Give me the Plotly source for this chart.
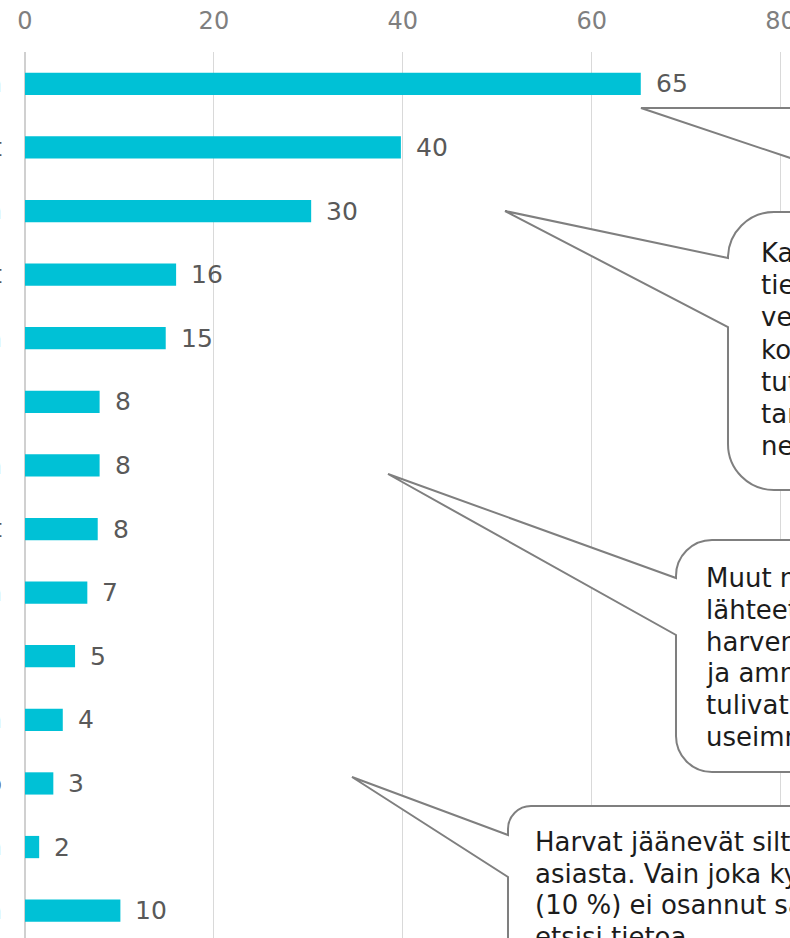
import plotly.graph_objects as go

# ---------------- data ----------------
categories = [
    "Internetin hakukoneista",
    "Viranomaisten verkkosivut",
    "Ystäviltä ja tuttavilta",
    "Sosiaalisen median palvelut",
    "Perheenjäseniltä",
    "Apteekista yms.",
    "Terveydenhuollon ammattilaiselta",
    "Järjestöt ja yhdistykset",
    "Työpaikalta",
    "Jostain muualta.",
    "Oppilaitoksesta",
    "Televisio ja radio",
    "Kirjastosta",
    "En osaa sanoa",
]
values = [65.2, 39.8, 30.3, 16.0, 14.9, 7.9, 7.9, 7.7, 6.6, 5.3, 4.0, 3.0, 1.5, 10.1]
value_labels = ["65", "40", "30", "16", "15", "8", "8", "8", "7", "5", "4", "3", "2", "10"]
x_ticks = [0, 20, 40, 60, 80]

callout1_lines = [
    "Kaksi kolmesta etsisi",
    "tietoa hakukoneella ja",
    "verkkosivuilta. Noin",
    "kolmannes kysyisi",
    "tuttaviltaan, ja moni",
    "tarkistaisi asian",
    "netistä.",
]
callout2_lines = [
    "Muut nimetyt tieto-",
    "lähteet mainittiin",
    "harvemmin. Viranomaiset",
    "ja ammattilaiset",
    "tulivat kyseeseen",
    "useimmiten vasta myöhemmin.",
]
callout3_lines = [
    "Harvat jäänevät silti ilman tietoa",
    "asiasta. Vain joka kymmenes",
    "(10 %) ei osannut sanoa, mistä",
    "etsisi tietoa.",
]

# ---------------- layout geometry ----------------
W, H = 790, 938
PX0, PY0 = 25, 52            # position of the plot area's top-left corner
ML, MT = PX0, PY0
PW, PH = W - ML, H - MT
FONT = "DejaVu Sans"
BAR_COLOR = "#00c1d6"
EDGE = "#7f7f7f"


def paper(x, y):
    """pixel -> paper coordinates"""
    return (x - PX0) / PW, 1 - (y - PY0) / PH


def pt(x, y):
    a, b = paper(x, y)
    return f"{a:.5f},{b:.5f}"


def callout_path(left, top, right, bottom, r, tip, base_top, base_bot):
    k = 0.5523 * r
    parts = [
        "M " + pt(left + r, top),
        "L " + pt(right, top),
        "L " + pt(right, bottom),
        "L " + pt(left + r, bottom),
        "C " + pt(left + r - k, bottom) + " " + pt(left, bottom - r + k) + " " + pt(left, bottom - r),
        "L " + pt(left, base_bot),
        "L " + pt(*tip),
        "L " + pt(left, base_top),
        "L " + pt(left, top + r),
        "C " + pt(left, top + r - k) + " " + pt(left + r - k, top) + " " + pt(left + r, top),
        "Z",
    ]
    return " ".join(parts)


fig = go.Figure()
fig.add_trace(
    go.Bar(
        x=values,
        y=categories,
        orientation="h",
        marker=dict(color=BAR_COLOR, line=dict(width=0)),
        hoverinfo="skip",
    )
)

annotations = []
for c, v, lab in zip(categories, values, value_labels):
    annotations.append(
        dict(
            x=v, y=c, xref="x", yref="y", text=lab, showarrow=False,
            xanchor="left", yanchor="middle", xshift=13,
            font=dict(family=FONT, size=25, color="#595959"),
        )
    )

shapes = []
callouts = [
    # left, top, right, bottom, radius, tip, base_top, base_bot, text_x, first_baseline, pitch, lines
    (728, 212, 1200, 490, 46, (505, 211), 258, 327, 759, 262, 32.2, callout1_lines),
    (676, 540, 1200, 772, 36, (388, 474), 578, 635, 704, 587, 31.8, callout2_lines),
    (508, 806, 1200, 1000, 23, (352, 777), 835, 877, 533, 851, 31.7, callout3_lines),
    (850, 60, 1200, 320, 40, (641, 108), 108, 178, None, None, None, []),
]
FS = 26
for (l, t, r_, b, rad, tip, bt, bb, tx, bl, pitch, lines) in callouts:
    shapes.append(
        dict(
            type="path", xref="paper", yref="paper",
            path=callout_path(l, t, r_, b, rad, tip, bt, bb),
            fillcolor="white", line=dict(color=EDGE, width=2), layer="above",
        )
    )
    for i, line in enumerate(lines):
        base = bl + i * pitch
        ax, ay = paper(tx, base - 0.35 * FS)
        annotations.append(
            dict(
                x=ax, y=ay, xref="paper", yref="paper", text=line, showarrow=False,
                xanchor="left", yanchor="middle", align="left",
                font=dict(family=FONT, size=FS, color="#1c1c1c"),
            )
        )

n = len(categories)
fig.update_layout(
    width=W, height=H,
    margin=dict(l=ML, r=0, t=MT, b=0, pad=0),
    template="none",
    paper_bgcolor="white", plot_bgcolor="white",
    showlegend=False,
    bargap=0.65,
    font=dict(family=FONT),
    xaxis=dict(
        side="top", range=[0, 81.0], tickvals=x_ticks, ticktext=[str(t) for t in x_ticks],
        showgrid=True, gridcolor="#d9d9d9", gridwidth=1,
        zeroline=True, zerolinecolor="#d0d0d0", zerolinewidth=2,
        showline=False, ticks="", ticklabelstandoff=17, ticklabeloverflow="allow",
        tickfont=dict(family=FONT, size=24, color="#7f7f7f"),
        automargin=False, fixedrange=True,
    ),
    yaxis=dict(
        type="category", categoryorder="array", categoryarray=categories,
        range=[n - 0.5 - 0.07, -0.5],
        showgrid=False, zeroline=False, showline=False, ticks="",
        ticklabelstandoff=22, ticklabeloverflow="allow",
        tickfont=dict(family=FONT, size=24, color="#595959"),
        automargin=False, fixedrange=True,
    ),
    shapes=shapes,
    annotations=annotations,
)

fig.write_html(
    "out.html",
    config={"displayModeBar": False},
    post_script="document.body.style.margin='0';document.body.style.overflow='hidden';",
)
